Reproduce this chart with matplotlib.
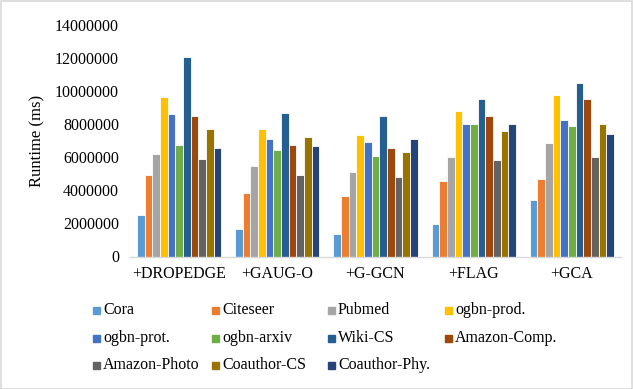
import matplotlib
matplotlib.use("Agg")
import matplotlib.pyplot as plt
from matplotlib.patches import Rectangle
import numpy as np

methods = ["+DROPEDGE", "+GAUG-O", "+G-GCN", "+FLAG", "+GCA"]
datasets = ["Cora", "Citeseer", "Pubmed", "ogbn-prod.", "ogbn-prot.", "ogbn-arxiv",
            "Wiki-CS", "Amazon-Comp.", "Amazon-Photo", "Coauthor-CS", "Coauthor-Phy."]
colors = ["#5B9BD5", "#ED7D31", "#A5A5A5", "#FFC000", "#4472C4", "#70AD47",
          "#255E91", "#9E480E", "#636363", "#997300", "#264478"]

cora         = [2500000, 1640000, 1340000, 1960000, 3420000]
citeseer     = [4930000, 3820000, 3660000, 4550000, 4690000]
pubmed       = [6200000, 5490000, 5090000, 6000000, 6860000]
ogbn_prod    = [9660000, 7730000, 7330000, 8800000, 9760000]
ogbn_prot    = [8600000, 7080000, 6920000, 7990000, 8230000]
ogbn_arxiv   = [6760000, 6460000, 6080000, 7990000, 7910000]
wiki_cs      = [12060000, 8700000, 8480000, 9520000, 10470000]
amazon_comp  = [8500000, 6760000, 6540000, 8480000, 9520000]
amazon_photo = [5870000, 4950000, 4790000, 5830000, 6000000]
coauthor_cs  = [7730000, 7250000, 6300000, 7590000, 7990000]
coauthor_phy = [6540000, 6700000, 7100000, 7990000, 7420000]

series = [cora, citeseer, pubmed, ogbn_prod, ogbn_prot, ogbn_arxiv,
          wiki_cs, amazon_comp, amazon_photo, coauthor_cs, coauthor_phy]

plt.rcParams['font.family'] = ['Liberation Serif', 'DejaVu Serif']

fig = plt.figure(figsize=(6.33, 3.89), dpi=100)
W, H = 633, 389
ax = fig.add_axes([130 / W, (H - 256.5) / H, (621 - 130) / W, (256.5 - 25) / H])

x = np.arange(len(methods))
n = len(series)
bw = 0.078
for i, (vals, c) in enumerate(zip(series, colors)):
    ax.bar(x + (i - (n - 1) / 2) * bw, vals, width=bw, color=c,
           edgecolor="white", linewidth=0.6, zorder=2)

ax.set_xlim(-0.5, len(methods) - 0.5)
ax.set_ylim(0, 14000000)
ax.set_yticks(np.arange(0, 14000001, 2000000))
ax.set_yticklabels([str(v) for v in range(0, 14000001, 2000000)], fontsize=11.5)
ax.set_xticks(x)
ax.set_xticklabels(methods, fontsize=11.5)
ax.tick_params(axis="both", length=0)
ax.tick_params(axis="y", pad=8)
ax.tick_params(axis="x", pad=7)
for s in ["top", "right", "left"]:
    ax.spines[s].set_visible(False)
ax.spines["bottom"].set_color("#D9D9D9")
ax.spines["bottom"].set_linewidth(1.0)
ax.set_ylabel("Runtime (ms)", fontsize=12, labelpad=7)

# legend (manual grid)
col_x = [93, 212, 328, 445]
row_y = [310, 338, 365]
for i, (name, c) in enumerate(zip(datasets, colors)):
    r, cidx = divmod(i, 4)
    px, py = col_x[cidx], row_y[r]
    fig.patches.append(Rectangle((px / W, (H - py - 3.5) / H), 7 / W, 7 / H,
                                 transform=fig.transFigure, color=c, figure=fig))
    fig.text((px + 10) / W, (H - py) / H, name, fontsize=11.5, va="center", ha="left")

# figure border
fig.patches.append(Rectangle((0.5 / W, 0.5 / H), 1 - 1.5 / W, 1 - 1.5 / H,
                             transform=fig.transFigure, fill=False,
                             edgecolor="#D9D9D9", linewidth=1.2, figure=fig))

fig.savefig("out.png", dpi=100)
